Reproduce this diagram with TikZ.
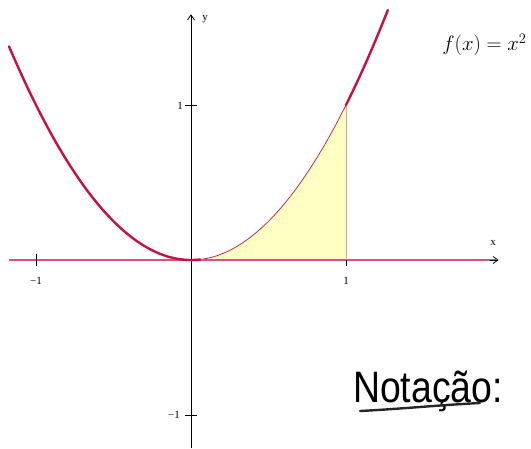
\documentclass[tikz,border=0pt]{standalone}
\usepackage{fontspec}
\setmainfont{Liberation Serif}
\newfontfamily\handfont{Liberation Sans}
\usetikzlibrary{arrows.meta}
\definecolor{curvecol}{RGB}{200,16,64}
\definecolor{axiscol}{RGB}{216,84,128}
\definecolor{fillcol}{RGB}{255,255,196}
\tikzset{
  ticklab/.style={font=\fontsize{11}{12}\selectfont, inner sep=1pt},
  axisarrow/.style={-{Straight Barb[length=5pt,width=7pt]}, line width=0.8pt},
}
\begin{document}
\begin{tikzpicture}[x=1pt,y=-1pt]
\useasboundingbox (0,0) rectangle (531,448);
\begin{scope}[shift={(191pt,-260pt)}, x=155pt, y=155pt]
  % filled area
  \fill[fillcol] (0,0) -- plot[domain=0:1, samples=60, smooth] (\x,{\x*\x}) -- (1,0) -- cycle;
  \draw[curvecol, line width=0.7pt] plot[domain=0:1, samples=60, smooth] (\x,{\x*\x});
  \draw[fillcol!60!curvecol, line width=0.4pt] (1,0) -- (1,1);
  % x axis
  \coordinate (xl) at (-1.174,0);
  \coordinate (xr) at (1.985,0);
  \draw[axiscol, line width=1.3pt] (xl) -- (1.97,0);
  \draw[axisarrow] (1.93,0) -- (xr);
  % y axis
  \coordinate (yb) at (0,-1.215);
  \coordinate (yt) at (0,1.585);
  \draw[axisarrow] (yb) -- (yt);
  % ticks
  \draw[line width=0.7pt] (-1,0.04) -- (-1,-0.04);
  \draw[line width=0.7pt] (1,0) -- (1,-0.04);
  \draw[line width=0.7pt] (-0.04,1) -- (0.04,1);
  \draw[line width=0.7pt] (-0.04,-1) -- (0.04,-1);
  % thick curve parts
  \draw[curvecol, line width=2.4pt, line cap=round] plot[domain=-1.174:0.06, samples=80, smooth] (\x,{\x*\x});
  \draw[curvecol, line width=2.4pt, line cap=round] plot[domain=1:1.27, samples=30, smooth] (\x,{\x*\x});
\end{scope}
% labels
\node[ticklab] (lx) at (493,243) {x};
\node[ticklab] (ly) at (205,19) {y};
\node[ticklab] (l1x) at (346,281) {1};
\node[ticklab] (lm1x) at (36,281) {−1};
\node[ticklab] (l1y) at (180,106) {1};
\node[ticklab] (lm1y) at (174,415) {−1};
\node[anchor=east, font=\fontsize{21}{24}\selectfont] (fx) at (530,45) {$f(x) = x^2$};
\node[font=\handfont\fontsize{44}{50}\selectfont, xscale=0.85, inner sep=0pt] (nota) at (428,391) {Notação:};
\coordinate (u1) at (360,411);
\coordinate (u2) at (480,403);
\draw[line width=2.4pt, line cap=round, black!85] (u1) .. controls (400,409) and (440,405) .. (u2);
\end{tikzpicture}
\end{document}
